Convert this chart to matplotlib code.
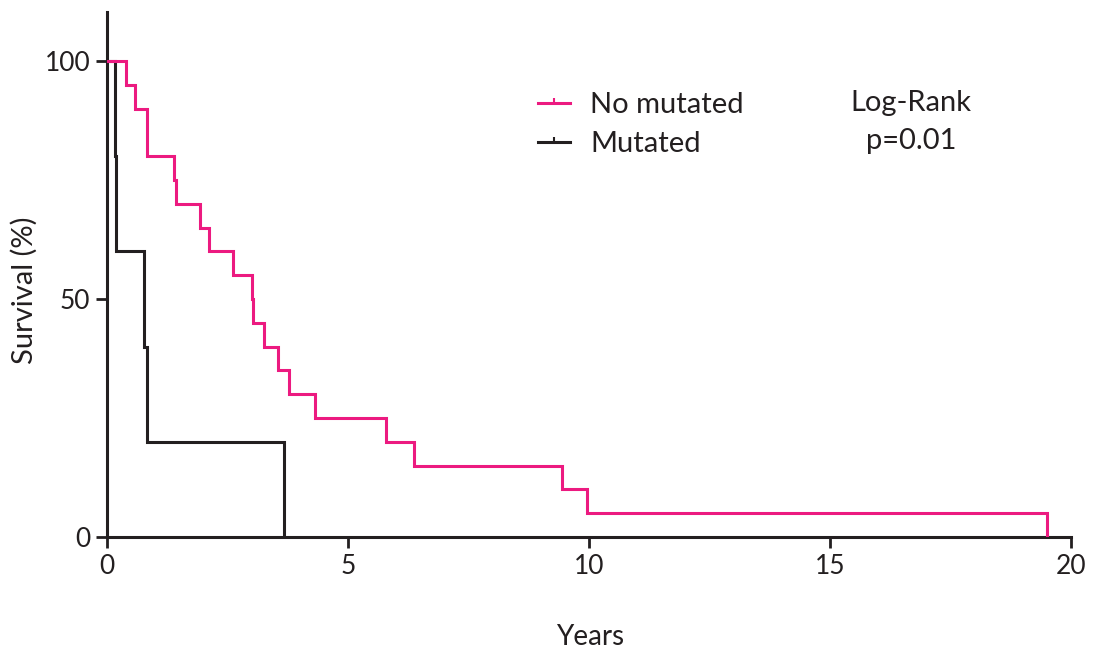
import matplotlib
matplotlib.use("Agg")
import matplotlib.pyplot as plt
from matplotlib.lines import Line2D

plt.rcParams['font.family'] = ['Lato', 'DejaVu Sans']

# Data
no_mut_times = [0, 0.39, 0.58, 0.83, 1.40, 1.44, 1.93, 2.12, 2.61, 3.00, 3.03,
                3.26, 3.55, 3.78, 4.32, 5.79, 6.37, 9.44, 9.96, 19.50]
no_mut_surv = [100, 95, 90, 80, 75, 70, 65, 60, 55, 50, 45,
               40, 35, 30, 25, 20, 15, 10, 5, 0]
mut_times = [0, 0.17, 0.19, 0.77, 0.84, 3.67]
mut_surv = [100, 80, 60, 40, 20, 0]

x_ticks = [0, 5, 10, 15, 20]
y_ticks = [0, 50, 100]

PINK = '#EC1A80'
BLACK = '#231F20'

fig = plt.figure(figsize=(10.97, 6.5), dpi=100)
ax = fig.add_axes([107/1097, 1 - 537/650, (1071-107)/1097, (537-12)/650])

ax.step(mut_times, mut_surv, where='post', color=BLACK, lw=2.2, zorder=2,
        solid_joinstyle='miter')
ax.step(no_mut_times, no_mut_surv, where='post', color=PINK, lw=2.2, zorder=3,
        solid_joinstyle='miter')

ax.set_xlim(0, 20)
ax.set_ylim(0, 110.3)
ax.set_xticks(x_ticks)
ax.set_yticks(y_ticks)
ax.tick_params(axis='both', labelsize=19, length=8, width=2, colors=BLACK, pad=4)
for s in ['top', 'right']:
    ax.spines[s].set_visible(False)
for s in ['left', 'bottom']:
    ax.spines[s].set_linewidth(2.2)
    ax.spines[s].set_color(BLACK)

ax.set_xlabel('Years', fontsize=20, color=BLACK, va='center')
ax.xaxis.set_label_coords(590/1097, 1 - 637/650, transform=fig.transFigure)
ax.set_ylabel('Survival (%)', fontsize=21, color=BLACK, va='center')
ax.yaxis.set_label_coords(24/1097, 1 - 290/650, transform=fig.transFigure)

tick_marker = [(0, 0), (0, 1)]
handles = [
    Line2D([0], [0], color=PINK, lw=2.2, marker=tick_marker, markersize=7,
           markeredgewidth=1.5, markeredgecolor=PINK, markevery=[1]),
    Line2D([0], [0], color=BLACK, lw=2.2, marker=tick_marker, markersize=7,
           markeredgewidth=1.5, markeredgecolor=BLACK, markevery=[1]),
]
leg = ax.legend(handles, ['No mutated', 'Mutated'], loc='upper left',
                bbox_to_anchor=(538/1097, 1 - 92/650), bbox_transform=fig.transFigure,
                frameon=False, fontsize=21, handlelength=1.1, handletextpad=0.7,
                labelspacing=0.46, borderaxespad=0, borderpad=0)
for t in leg.get_texts():
    t.set_color(BLACK)

fig.text(911/1097, 1 - 103/650, 'Log-Rank', ha='center', va='center',
         fontsize=21, color=BLACK)
fig.text(911/1097, 1 - 141/650, 'p=0.01', ha='center', va='center',
         fontsize=21, color=BLACK)

fig.savefig('out.png', dpi=100)
